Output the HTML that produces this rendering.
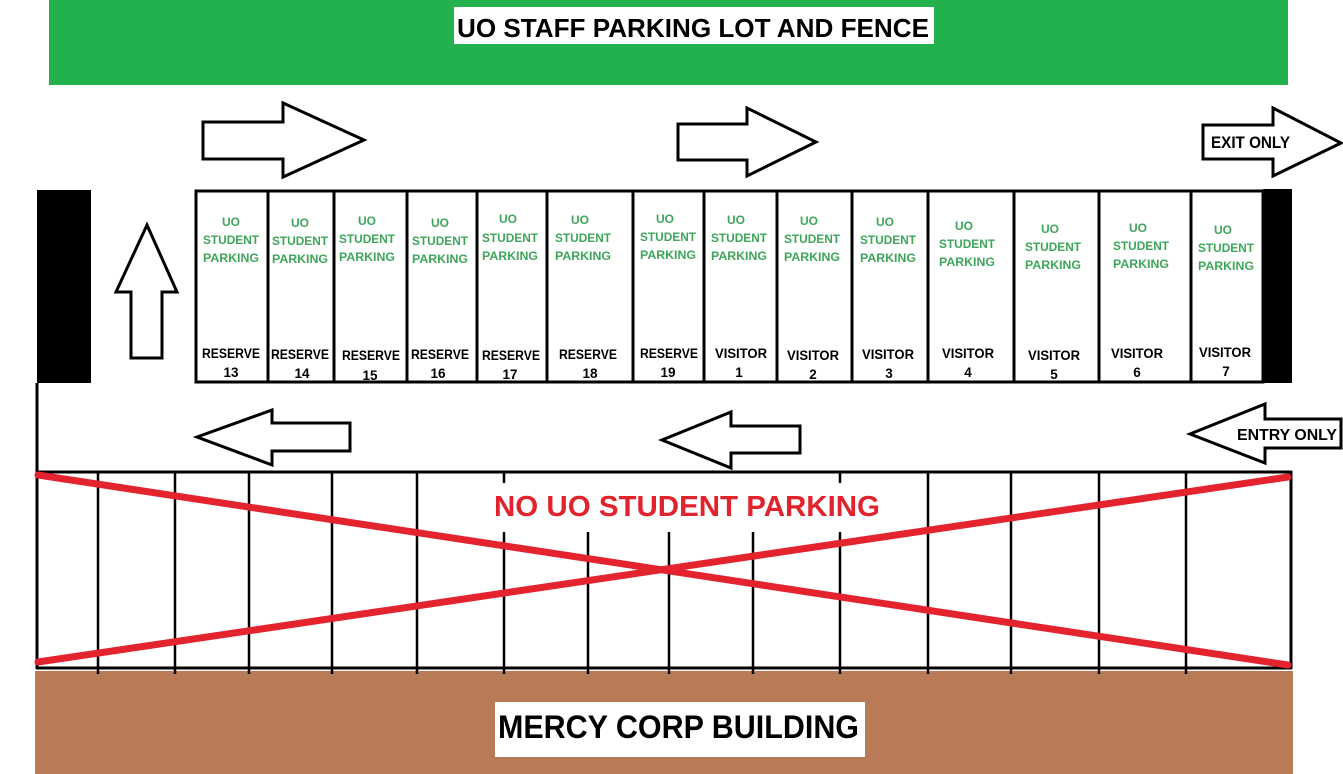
<!DOCTYPE html>
<html><head><meta charset="utf-8"><style>
html,body{margin:0;padding:0;background:#fff;}
svg{display:block;}
text{font-family:"Liberation Sans",sans-serif;font-weight:bold;}
.g{fill:#3ea65a;font-size:12px;}
.k{fill:#000;font-size:13.5px;}
</style></head><body>
<svg width="1343" height="774" viewBox="0 0 1343 774" xmlns="http://www.w3.org/2000/svg">
<rect x="0" y="0" width="1343" height="774" fill="#fff"/>
<!-- top banner -->
<rect x="49" y="0" width="1239" height="85" fill="#22b14c"/>
<rect x="454" y="7" width="480" height="37" fill="#fff"/>
<text x="457" y="37" font-size="26" textLength="472" lengthAdjust="spacingAndGlyphs">UO STAFF PARKING LOT AND FENCE</text>

<!-- arrows -->
<g fill="#fff" stroke="#000" stroke-width="3" stroke-linejoin="miter">
<polygon points="203,122 283,122 283,103 364,140 283,177 283,159 203,159"/>
<polygon points="678,124 747,124 747,108 816,142 747,176 747,160 678,160"/>
<polygon points="1203,125 1273,125 1273,108 1341,143 1273,176 1273,159 1203,159"/>
<polygon points="147,225 177,292 162,292 162,358 131,358 131,292 116,292"/>
<polygon points="197,437 272,410 272,423 350,423 350,451 272,451 272,465"/>
<polygon points="662,440 731,412 731,426 800,426 800,453 731,453 731,468"/>
<polygon points="1190,434 1265,404 1265,419 1341,419 1341,448 1265,448 1265,463"/>
</g>
<text x="1211" y="148" font-size="17" textLength="79" lengthAdjust="spacingAndGlyphs">EXIT ONLY</text>
<text x="1237" y="440" font-size="16" textLength="100" lengthAdjust="spacingAndGlyphs">ENTRY ONLY</text>

<!-- black bars -->
<rect x="37" y="190" width="54" height="193" fill="#000"/>
<rect x="1263" y="189" width="29" height="194" fill="#000"/>

<!-- stall row -->
<g stroke="#000" stroke-width="3" fill="none">
<rect x="196" y="191" width="1067" height="191"/>
<line x1="268" y1="191" x2="268" y2="382"/>
<line x1="334" y1="191" x2="334" y2="382"/>
<line x1="407" y1="191" x2="407" y2="382"/>
<line x1="477" y1="191" x2="477" y2="382"/>
<line x1="547" y1="191" x2="547" y2="382"/>
<line x1="633" y1="191" x2="633" y2="382"/>
<line x1="704" y1="191" x2="704" y2="382"/>
<line x1="777" y1="191" x2="777" y2="382"/>
<line x1="852" y1="191" x2="852" y2="382"/>
<line x1="928" y1="191" x2="928" y2="382"/>
<line x1="1014" y1="191" x2="1014" y2="382"/>
<line x1="1099" y1="191" x2="1099" y2="382"/>
<line x1="1191" y1="191" x2="1191" y2="382"/>
</g>

<g text-anchor="middle">
<!-- stall 13 -->
<text class="g" x="231" y="226">UO</text>
<text class="g" x="231" y="244" textLength="56" lengthAdjust="spacingAndGlyphs">STUDENT</text>
<text class="g" x="231" y="262" textLength="56" lengthAdjust="spacingAndGlyphs">PARKING</text>
<text class="k" x="231" y="358" textLength="58" lengthAdjust="spacingAndGlyphs">RESERVE</text>
<text class="k" x="231" y="377">13</text>
<!-- 14 -->
<text class="g" x="300" y="227">UO</text>
<text class="g" x="300" y="245" textLength="56" lengthAdjust="spacingAndGlyphs">STUDENT</text>
<text class="g" x="300" y="263" textLength="56" lengthAdjust="spacingAndGlyphs">PARKING</text>
<text class="k" x="300" y="359" textLength="58" lengthAdjust="spacingAndGlyphs">RESERVE</text>
<text class="k" x="302" y="378">14</text>
<!-- 15 -->
<text class="g" x="367" y="225">UO</text>
<text class="g" x="367" y="243" textLength="56" lengthAdjust="spacingAndGlyphs">STUDENT</text>
<text class="g" x="367" y="261" textLength="56" lengthAdjust="spacingAndGlyphs">PARKING</text>
<text class="k" x="371" y="360" textLength="58" lengthAdjust="spacingAndGlyphs">RESERVE</text>
<text class="k" x="370" y="380">15</text>
<!-- 16 -->
<text class="g" x="440" y="227">UO</text>
<text class="g" x="440" y="245" textLength="56" lengthAdjust="spacingAndGlyphs">STUDENT</text>
<text class="g" x="440" y="263" textLength="56" lengthAdjust="spacingAndGlyphs">PARKING</text>
<text class="k" x="440" y="359" textLength="58" lengthAdjust="spacingAndGlyphs">RESERVE</text>
<text class="k" x="438" y="378">16</text>
<!-- 17 -->
<text class="g" x="508" y="223">UO</text>
<text class="g" x="510" y="242" textLength="56" lengthAdjust="spacingAndGlyphs">STUDENT</text>
<text class="g" x="510" y="260" textLength="56" lengthAdjust="spacingAndGlyphs">PARKING</text>
<text class="k" x="511" y="360" textLength="58" lengthAdjust="spacingAndGlyphs">RESERVE</text>
<text class="k" x="510" y="379">17</text>
<!-- 18 -->
<text class="g" x="580" y="224">UO</text>
<text class="g" x="583" y="242" textLength="56" lengthAdjust="spacingAndGlyphs">STUDENT</text>
<text class="g" x="583" y="260" textLength="56" lengthAdjust="spacingAndGlyphs">PARKING</text>
<text class="k" x="588" y="359" textLength="58" lengthAdjust="spacingAndGlyphs">RESERVE</text>
<text class="k" x="590" y="378">18</text>
<!-- 19 -->
<text class="g" x="665" y="223">UO</text>
<text class="g" x="668" y="241" textLength="56" lengthAdjust="spacingAndGlyphs">STUDENT</text>
<text class="g" x="668" y="259" textLength="56" lengthAdjust="spacingAndGlyphs">PARKING</text>
<text class="k" x="669" y="358" textLength="58" lengthAdjust="spacingAndGlyphs">RESERVE</text>
<text class="k" x="668" y="377">19</text>
<!-- V1 -->
<text class="g" x="736" y="224">UO</text>
<text class="g" x="739" y="242" textLength="56" lengthAdjust="spacingAndGlyphs">STUDENT</text>
<text class="g" x="739" y="260" textLength="56" lengthAdjust="spacingAndGlyphs">PARKING</text>
<text class="k" x="741" y="358" textLength="52" lengthAdjust="spacingAndGlyphs">VISITOR</text>
<text class="k" x="739" y="377">1</text>
<!-- V2 -->
<text class="g" x="809" y="225">UO</text>
<text class="g" x="812" y="243" textLength="56" lengthAdjust="spacingAndGlyphs">STUDENT</text>
<text class="g" x="812" y="261" textLength="56" lengthAdjust="spacingAndGlyphs">PARKING</text>
<text class="k" x="813" y="360" textLength="52" lengthAdjust="spacingAndGlyphs">VISITOR</text>
<text class="k" x="813" y="379">2</text>
<!-- V3 -->
<text class="g" x="885" y="226">UO</text>
<text class="g" x="888" y="244" textLength="56" lengthAdjust="spacingAndGlyphs">STUDENT</text>
<text class="g" x="888" y="262" textLength="56" lengthAdjust="spacingAndGlyphs">PARKING</text>
<text class="k" x="888" y="359" textLength="52" lengthAdjust="spacingAndGlyphs">VISITOR</text>
<text class="k" x="889" y="378">3</text>
<!-- V4 -->
<text class="g" x="964" y="230">UO</text>
<text class="g" x="967" y="248" textLength="56" lengthAdjust="spacingAndGlyphs">STUDENT</text>
<text class="g" x="967" y="266" textLength="56" lengthAdjust="spacingAndGlyphs">PARKING</text>
<text class="k" x="968" y="358" textLength="52" lengthAdjust="spacingAndGlyphs">VISITOR</text>
<text class="k" x="968" y="377">4</text>
<!-- V5 -->
<text class="g" x="1050" y="233">UO</text>
<text class="g" x="1053" y="251" textLength="56" lengthAdjust="spacingAndGlyphs">STUDENT</text>
<text class="g" x="1053" y="269" textLength="56" lengthAdjust="spacingAndGlyphs">PARKING</text>
<text class="k" x="1054" y="360" textLength="52" lengthAdjust="spacingAndGlyphs">VISITOR</text>
<text class="k" x="1054" y="379">5</text>
<!-- V6 -->
<text class="g" x="1138" y="232">UO</text>
<text class="g" x="1141" y="250" textLength="56" lengthAdjust="spacingAndGlyphs">STUDENT</text>
<text class="g" x="1141" y="268" textLength="56" lengthAdjust="spacingAndGlyphs">PARKING</text>
<text class="k" x="1137" y="358" textLength="52" lengthAdjust="spacingAndGlyphs">VISITOR</text>
<text class="k" x="1137" y="377">6</text>
<!-- V7 -->
<text class="g" x="1223" y="234">UO</text>
<text class="g" x="1226" y="252" textLength="56" lengthAdjust="spacingAndGlyphs">STUDENT</text>
<text class="g" x="1226" y="270" textLength="56" lengthAdjust="spacingAndGlyphs">PARKING</text>
<text class="k" x="1225" y="357" textLength="52" lengthAdjust="spacingAndGlyphs">VISITOR</text>
<text class="k" x="1226" y="376">7</text>
</g>

<!-- brown building -->
<rect x="35" y="671" width="1258" height="103" fill="#b97a57"/>
<rect x="495" y="702" width="370" height="55" fill="#fff"/>
<text x="498" y="738" font-size="32" textLength="361" lengthAdjust="spacingAndGlyphs">MERCY CORP BUILDING</text>

<!-- lower lot -->
<g stroke="#000" stroke-width="3" fill="none">
<line x1="37" y1="383" x2="37" y2="669"/>
<line x1="36" y1="472" x2="1292" y2="472"/>
<line x1="36" y1="668" x2="1292" y2="668"/>
<line x1="1291" y1="471" x2="1291" y2="669"/>
</g>
<g stroke="#000" stroke-width="2.5" fill="none">
<line x1="98" y1="472" x2="98" y2="674"/>
<line x1="175" y1="472" x2="175" y2="674"/>
<line x1="249" y1="472" x2="249" y2="674"/>
<line x1="332" y1="472" x2="332" y2="674"/>
<line x1="417" y1="472" x2="417" y2="674"/>
<line x1="504" y1="472" x2="504" y2="483"/>
<line x1="504" y1="532" x2="504" y2="674"/>
<line x1="588" y1="532" x2="588" y2="674"/>
<line x1="669" y1="532" x2="669" y2="674"/>
<line x1="753" y1="532" x2="753" y2="674"/>
<line x1="840" y1="472" x2="840" y2="483"/>
<line x1="840" y1="532" x2="840" y2="674"/>
<line x1="928" y1="472" x2="928" y2="674"/>
<line x1="1011" y1="472" x2="1011" y2="674"/>
<line x1="1099" y1="472" x2="1099" y2="674"/>
<line x1="1186" y1="472" x2="1186" y2="674"/>
</g>
<text x="494" y="516" font-size="29" fill="#e1232d" textLength="386" lengthAdjust="spacingAndGlyphs">NO UO STUDENT PARKING</text>
<g stroke="#e3242e" stroke-width="7" stroke-linecap="round">
<line x1="38" y1="475" x2="1288" y2="665"/>
<line x1="38" y1="662" x2="1288" y2="477"/>
</g>
</svg>
</body></html>
